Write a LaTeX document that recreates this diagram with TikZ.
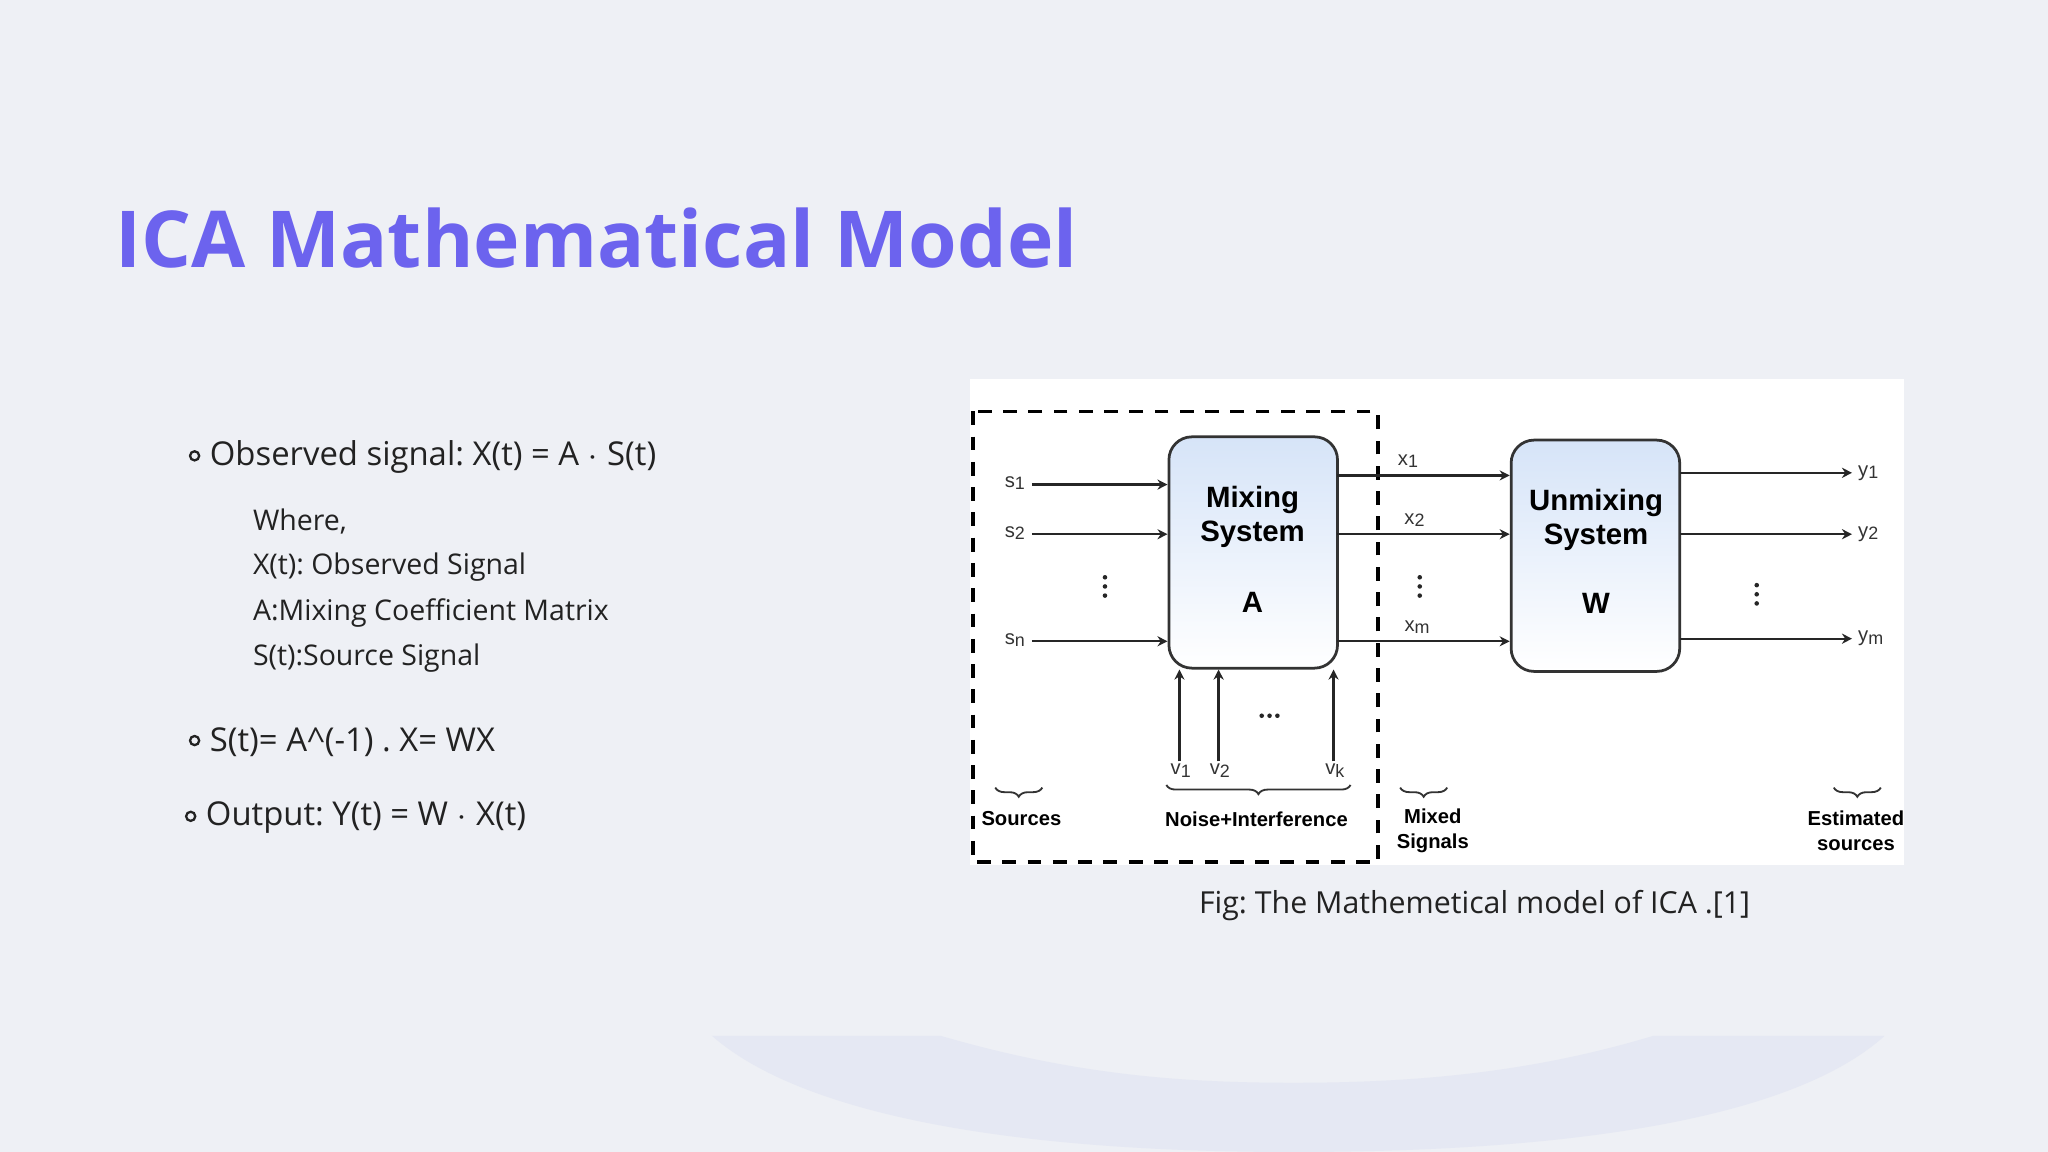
\documentclass[tikz,border=0pt]{standalone}
\usepackage{fontspec}
\setmainfont{Open Sans}
\newfontfamily\arial{Liberation Sans}
\usetikzlibrary{arrows.meta,decorations.pathreplacing}
\frenchspacing
\definecolor{bg}{HTML}{EEF0F5}
\definecolor{titlec}{HTML}{6C63EE}
\definecolor{boxtop}{HTML}{D6E4F8}
\definecolor{txt}{HTML}{222222}
\definecolor{arcc}{HTML}{E5E8F3}
\newcommand{\mysub}[1]{\raisebox{-0.5pt}{\fontsize{3.9}{4}\selectfont #1}}
\tikzset{
  arr/.style={draw=black!85,line width=0.5pt,-{Stealth[length=2.2pt,width=2.2pt]}},
  sysbox/.style={draw=black!80,line width=0.6pt,rounded corners=5pt,top color=boxtop,bottom color=white,minimum width=1.29cm,minimum height=1.77cm},
  lab/.style={font=\arial\fontsize{4.4}{5}\selectfont,text=black!80,inner sep=0pt},
  blab/.style={font=\arial\bfseries\fontsize{4.4}{5.4}\selectfont,align=center,inner sep=0pt},
  sys/.style={font=\arial\bfseries\fontsize{6.4}{7.4}\selectfont,align=center,inner sep=0pt},
  body/.style={font=\fontsize{7.15}{9}\selectfont,text=txt,anchor=west,inner sep=0pt},
  sub/.style={font=\fontsize{6.2}{8}\selectfont,text=txt,anchor=west,inner sep=0pt},
  brc/.style={decorate,decoration={brace,amplitude=2pt},line width=0.4pt,draw=black!80},
  dotc/.style={circle,draw=txt,line width=0.5pt,inner sep=0pt,minimum size=0.07cm},
  vd/.style={circle,fill=black!85,inner sep=0pt,minimum size=0.035cm},
}
\begin{document}
\begin{tikzpicture}[x=0.01cm,y=-0.01cm]
\fill[bg] (0,0) rectangle (1568,882);
\useasboundingbox (0,0) rectangle (1568,882);
\fill[arcc] (545,793) -- (720,793) .. controls (820,822) and (900,829) .. (990,829)
  .. controls (1080,829) and (1170,822) .. (1266,793) -- (1443,793)
  .. controls (1380,850) and (1230,882) .. (990,882) .. controls (760,882) and (610,850) .. (545,793) -- cycle;
% title
\node[anchor=base west,inner sep=0pt,text=titlec,font=\bfseries\fontsize{17.1}{20}\selectfont] (title) at (88,205) {ICA Mathematical Model};
% bullets
\node[dotc] (b1) at (149,349) {};
\node[body] (t1) at (160,350) {Observed signal: X(t) = A $\cdot$ S(t)};
\node[sub] (w1) at (193,399) {Where,};
\node[sub] (w2) at (193,434) {X(t): Observed Signal};
\node[sub] (w3) at (193,469) {A:Mixing Coefficient Matrix};
\node[sub] (w4) at (193,504) {S(t):Source Signal};
\node[dotc] (b2) at (149,567) {};
\node[body] (t2) at (160,568) {S(t)= A\^{}(-1) . X= WX};
\node[dotc] (b3) at (146,625) {};
\node[body] (t3) at (157,626) {Output: Y(t) = W $\cdot$ X(t)};
% figure
\fill[white] (743,290) rectangle (1458,662);
\draw[dashed,line width=0.8pt,dash pattern=on 3pt off 2.5pt] (745,315) rectangle (1055,660);
\node[sysbox] (mix) at (959.5,423) {};
\node[sys] (mixt) at (959,396) {Mixing\\System};
\node[sys] (mixa) at (959,461) {A};
\node[sysbox] (unm) at (1221.5,425.5) {};
\node[sys] (unmt) at (1222,398) {Unmixing\\System};
\node[sys] (unmw) at (1222,462) {W};
% sources
\foreach \n/\y/\s in {s1/371/1,s2/409/2,sn/491/n}{
  \coordinate (\n) at (790,\y);
  \node[lab] (\n l) at (777,\y-1) {s\mysub{\s}};
  \draw[arr] (\n) -- (\n -| mix.west);
}
% x
\foreach \n/\y/\s/\lx in {x1/364/1/1078,x2/409/2/1083,xm/491/m/1085}{
  \coordinate (\n a) at (1024,\y);
  \node[lab] (\n l) at (\lx,\y-11) {x\mysub{\s}};
  \draw[arr] (\n a) -- (\n a -| unm.west);
}
% y
\foreach \n/\y/\s in {y1/362/1,y2/409/2,ym/489/m}{
  \coordinate (\n a) at (1286,\y);
  \coordinate (\n b) at (1418,\y);
  \node[lab,anchor=west] (\n l) at (1422,\y) {y\mysub{\s}};
  \draw[arr] (\n a) -- (\n b);
}
% v
\foreach \n/\x/\s in {v1/903/1,v2/933/2,vk/1021/k}{
  \coordinate (\n) at (\x,583);
  \node[lab] (\n l) at (\x+1,590) {v\mysub{\s}};
  \draw[arr] (\n) -- (\n |- mix.south);
}
% dots
\foreach \n/\x/\y in {d1/846/449,d2/1087/449,d3/1345/455}{
  \node[vd] (\n a) at (\x,\y-7) {};
  \node[vd] (\n b) at (\x,\y) {};
  \node[vd] (\n c) at (\x,\y+7) {};
}
\foreach \n/\x in {a/966,b/972,c/978}{\node[vd] (d4\n) at (\x,548) {};}
% braces
\draw[brc] (798,603) -- (762,603);
\draw[brc] (1034,601) -- (893,601);
\draw[brc] (1108,603) -- (1072,603);
\draw[brc] (1440,603) -- (1404,603);
\node[blab] (src) at (782,627) {Sources};
\node[blab] (noi) at (962,627) {Noise+Interference};
\node[blab] (mxs) at (1097,636) {Mixed\\Signals};
\node[blab] (est) at (1421,636) {Estimated\\sources};
\node[font=\fontsize{6.6}{8}\selectfont,text=txt,inner sep=0pt] (cap) at (1129,693) {Fig: The Mathemetical model of ICA .[1]};
\end{tikzpicture}
\end{document}
